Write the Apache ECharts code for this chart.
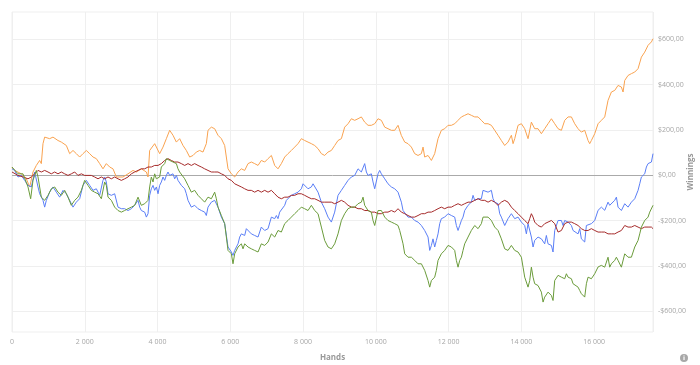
<!DOCTYPE html>
<html>
<head>
<meta charset="utf-8">
<script src="https://cdn.jsdelivr.net/npm/echarts@6/dist/echarts.min.js"></script>
<style>html,body{margin:0;padding:0;background:#fff}#c{width:700px;height:365px}</style>
</head>
<body>
<div id="c"></div>
<script>
// Hands range and tick labels
const xMax = 17620;
const yTicks = [-600, -400, -200, 0, 200, 400, 600];
const seriesNames = ['Player A', 'Player B', 'Player C', 'Player D'];

// [hands, winnings $]
const orange = [[0,34],[73,22],[257,7],[394,-15],[486,-51],[577,15],[669,44],[760,66],[806,52],[852,140],[898,169],[944,177],[1035,162],[1127,169],[1264,154],[1356,147],[1494,132],[1585,96],[1677,110],[1768,96],[1860,81],[1952,96],[2043,110],[2135,96],[2227,81],[2318,74],[2410,52],[2501,29],[2593,52],[2685,37],[2776,29],[2868,-7],
[2914,-15],[3051,-7],[3189,7],[3326,22],[3418,15],[3555,29],[3693,15],[3739,-7],[3784,110],[3830,103],[3922,140],[3968,147],[4059,96],[4151,125],[4243,162],[4334,199],[4426,177],[4518,147],[4609,162],[4701,132],[4792,110],[4884,81],[4976,88],[5067,103],[5159,110],[5250,103],[5342,140],[5388,199],[5480,213],[5571,206],[5663,177],[5755,162],[5846,132],
[5938,29],[6030,7],[6121,-7],[6213,15],[6305,29],[6396,22],[6488,52],[6579,59],[6671,52],[6763,44],[6854,66],[6946,59],[7038,74],[7130,88],[7221,44],[7312,29],[7404,52],[7496,81],[7587,96],[7679,110],[7771,125],[7862,140],[7954,162],[8045,154],[8137,147],[8229,140],[8320,132],[8412,118],[8504,96],[8595,88],[8687,103],[8779,110],[8870,132],
[8962,154],[9054,162],[9145,213],[9237,228],[9329,250],[9420,243],[9512,250],[9603,258],[9695,235],[9787,221],[9878,221],[9970,228],[10062,250],[10153,243],[10245,213],[10336,206],[10428,199],[10520,199],[10611,221],[10657,228],[10703,176],[10795,147],[10886,140],[10978,125],[11069,96],[11161,88],[11253,96],[11299,125],[11344,81],[11436,88],[11528,66],[11619,96],[11711,162],[11802,199],[11894,206],
[11986,221],[12078,221],[12169,228],[12261,243],[12353,258],[12444,265],[12536,272],[12627,265],[12719,258],[12811,258],[12902,243],[12994,228],[13086,228],[13177,221],[13269,199],[13360,177],[13452,154],[13544,132],[13635,147],[13727,177],[13773,140],[13819,162],[13910,221],[14002,228],[14093,206],[14185,162],[14277,235],[14323,243],[14368,206],[14460,206],[14552,184],[14643,206],[14735,228],[14827,250],[14918,228],
[15010,206],[15102,199],[15193,243],[15285,258],[15377,258],[15468,228],[15560,206],[15651,191],[15743,199],[15789,206],[15835,154],[15880,140],[15926,154],[16018,184],[16064,177],[16110,228],[16201,243],[16293,258],[16384,331],[16476,368],[16568,375],[16659,397],[16751,390],[16797,368],[16843,419],[16934,441],[17026,449],[17118,456],[17209,471],[17301,522],[17392,544],[17484,574],[17576,589],[17620,603]];

const blue = [[0,29],[73,22],[165,-7],[257,0],[348,-22],[440,-44],[531,-51],[623,15],[669,7],[715,-51],[760,-81],[806,-74],[852,-110],[898,-140],[944,-110],[1035,-74],[1127,-51],[1219,-74],[1310,-96],[1402,-66],[1494,-81],[1585,-110],[1677,-140],[1768,-118],[1860,-103],[1952,-44],[2043,-22],[2135,-44],[2227,-66],[2318,-59],[2410,-88],[2501,-22],[2547,-7],[2593,-29],[2639,-81],[2731,-88],[2822,-81],
[2914,-140],[3006,-147],[3097,-147],[3189,-155],[3281,-147],[3372,-132],[3464,-110],[3510,-140],[3555,-155],[3647,-162],[3693,-184],[3739,-169],[3784,-88],[3830,-59],[3876,-44],[3922,-66],[3968,-51],[4014,-81],[4059,-44],[4105,-29],[4151,-7],[4197,-22],[4243,0],[4288,15],[4334,0],[4380,-7],[4426,7],[4472,-15],[4518,0],[4563,-22],[4655,-44],[4747,-59],[4792,-81],[4838,-110],[4930,-140],[5021,-132],[5113,-147],[5205,-155],[5296,-162],[5342,-177],[5388,-140],[5434,-132],[5480,-118],[5571,-110],[5663,-140],[5755,-184],[5846,-213],
[5938,-316],[6030,-338],[6075,-353],[6121,-331],[6213,-302],[6259,-272],[6305,-258],[6396,-265],[6442,-235],[6488,-235],[6579,-258],[6671,-265],[6763,-272],[6854,-228],[6946,-243],[7038,-235],[7130,-184],[7221,-191],[7267,-177],[7312,-191],[7358,-162],[7404,-155],[7496,-132],[7542,-110],[7587,-103],[7679,-88],[7771,-81],[7862,-74],[7954,-59],[8000,-37],[8045,-44],[8137,-59],[8229,-51],[8275,-37],[8320,-44],[8412,-74],[8504,-118],[8595,-147],[8687,-184],[8779,-206],[8870,-162],
[8962,-88],[9054,-66],[9145,-44],[9237,-22],[9329,-7],[9420,0],[9512,29],[9558,37],[9603,15],[9695,52],[9741,15],[9787,0],[9878,7],[9924,-29],[9970,-59],[10062,7],[10107,22],[10153,7],[10245,-15],[10336,-37],[10428,-51],[10520,-59],[10611,-74],[10703,-118],[10749,-155],[10795,-162],[10886,-184],[10978,-184],[11069,-199],[11161,-206],[11253,-221],[11344,-243],[11436,-272],[11482,-331],[11528,-309],[11573,-280],[11619,-316],[11665,-287],[11711,-258],[11757,-213],[11802,-191],[11894,-184],
[11986,-169],[12078,-177],[12169,-184],[12215,-221],[12261,-243],[12307,-221],[12353,-199],[12398,-184],[12444,-155],[12536,-132],[12627,-118],[12673,-88],[12719,-110],[12811,-103],[12902,-103],[12948,-66],[12994,-66],[13086,-74],[13177,-66],[13223,-103],[13269,-118],[13360,-125],[13406,-169],[13452,-184],[13544,-221],[13590,-213],[13635,-191],[13727,-169],[13819,-191],[13910,-184],[14002,-206],[14093,-221],[14139,-258],[14185,-213],[14277,-272],[14323,-316],[14368,-287],[14460,-272],[14552,-280],[14643,-302],[14689,-265],[14735,-302],[14827,-309],[14872,-338],[14918,-243],
[15010,-199],[15102,-199],[15147,-221],[15193,-199],[15285,-206],[15377,-221],[15422,-243],[15468,-243],[15560,-258],[15606,-235],[15651,-280],[15743,-294],[15761,-302],[15789,-221],[15835,-213],[15926,-213],[16018,-199],[16110,-154],[16201,-140],[16293,-154],[16384,-118],[16430,-132],[16476,-140],[16568,-110],[16614,-96],[16659,-140],[16751,-155],[16843,-125],[16934,-140],[17026,-118],[17118,-103],[17209,-66],[17255,-37],[17301,-7],[17392,7],[17438,37],[17484,52],[17576,59],[17620,96]];

const red = [[0,15],[165,0],[302,-7],[440,-15],[531,-7],[623,7],[715,22],[806,15],[898,22],[990,15],[1081,7],[1173,15],[1264,7],[1356,15],[1448,7],[1539,0],[1631,7],[1723,15],[1814,0],[1906,7],[1997,0],[2089,0],[2181,0],[2272,-7],[2364,-15],[2456,-7],[2547,-15],[2639,-7],[2731,-15],[2822,-7],
[2914,-15],[3006,-22],[3097,-15],[3189,-7],[3281,7],[3372,15],[3464,22],[3555,29],[3647,29],[3739,37],[3830,37],[3922,44],[4014,44],[4105,52],[4197,66],[4288,74],[4380,66],[4472,59],[4563,59],[4655,52],[4747,44],[4838,52],[4930,44],[5021,52],[5113,44],[5205,37],[5296,29],[5388,22],[5480,15],[5571,15],[5663,15],[5755,7],[5846,0],
[5938,-15],[6030,-22],[6121,-37],[6213,-44],[6305,-51],[6396,-59],[6488,-66],[6579,-66],[6671,-74],[6763,-66],[6854,-74],[6946,-66],[7038,-74],[7130,-66],[7221,-81],[7312,-96],[7404,-103],[7496,-96],[7587,-96],[7679,-88],[7771,-88],[7862,-81],[7954,-81],[8045,-88],[8137,-96],[8229,-103],[8320,-103],[8412,-110],[8504,-118],[8595,-118],[8687,-118],[8779,-118],[8870,-125],
[8962,-118],[9054,-110],[9145,-118],[9237,-132],[9329,-140],[9420,-140],[9512,-147],[9603,-147],[9695,-155],[9787,-155],[9878,-162],[9970,-162],[10062,-169],[10153,-169],[10245,-162],[10336,-162],[10428,-155],[10520,-162],[10611,-147],[10703,-162],[10795,-169],[10886,-177],[10978,-184],[11069,-184],[11161,-177],[11253,-169],[11344,-169],[11436,-162],[11528,-162],[11619,-155],[11711,-147],[11802,-140],[11894,-147],
[11986,-140],[12078,-140],[12169,-132],[12261,-125],[12353,-132],[12444,-125],[12536,-118],[12627,-118],[12719,-110],[12811,-103],[12902,-110],[12994,-110],[13086,-118],[13177,-110],[13269,-118],[13360,-132],[13452,-118],[13544,-110],[13635,-118],[13727,-140],[13819,-155],[13910,-169],[14002,-184],[14093,-199],[14185,-213],[14231,-191],[14277,-169],[14323,-184],[14368,-206],[14460,-221],[14552,-228],[14643,-213],[14735,-206],[14827,-199],[14918,-213],
[15010,-250],[15102,-243],[15193,-213],[15285,-206],[15377,-206],[15468,-213],[15560,-221],[15651,-235],[15743,-243],[15835,-243],[15926,-235],[16018,-243],[16110,-250],[16201,-250],[16293,-250],[16384,-258],[16476,-258],[16568,-258],[16659,-250],[16751,-243],[16843,-221],[16934,-228],[17026,-228],[17118,-221],[17209,-228],[17301,-235],[17392,-228],[17484,-228],[17576,-228],[17620,-235]];

const green = [[0,37],[165,7],[302,7],[440,-51],[513,-103],[577,-22],[669,22],[715,-7],[806,-96],[898,-110],[990,-88],[1081,-59],[1173,-51],[1264,-74],[1356,-88],[1448,-66],[1539,-96],[1631,-132],[1723,-110],[1814,-96],[1906,-66],[1997,-22],[2089,-44],[2181,-66],[2272,-74],[2364,-81],[2456,-103],[2547,-29],[2593,-44],[2639,-96],[2731,-110],[2822,-140],
[2914,-155],[3006,-162],[3097,-155],[3189,-147],[3281,-140],[3372,-132],[3464,-96],[3510,-103],[3555,-132],[3647,-125],[3739,-110],[3784,-51],[3830,-7],[3876,-29],[3922,7],[3968,-15],[4014,-22],[4059,-7],[4105,37],[4197,52],[4243,74],[4288,81],[4334,66],[4380,74],[4426,59],[4472,66],[4518,52],[4563,29],[4609,15],[4655,7],[4747,-15],[4838,-44],[4930,-74],[5021,-66],[5113,-88],[5205,-103],[5296,-118],[5388,-96],[5480,-103],[5571,-74],[5617,-103],[5663,-140],[5755,-177],[5846,-213],
[5938,-331],[6030,-346],[6075,-390],[6121,-346],[6213,-316],[6305,-302],[6350,-324],[6396,-302],[6488,-316],[6579,-324],[6671,-331],[6763,-338],[6808,-346],[6854,-302],[6946,-309],[7038,-294],[7130,-258],[7221,-272],[7312,-243],[7404,-250],[7496,-213],[7587,-199],[7679,-184],[7771,-169],[7862,-155],[7954,-140],[8045,-147],[8137,-155],[8229,-132],[8320,-155],[8412,-169],[8504,-228],[8595,-287],[8687,-316],[8779,-324],[8870,-302],
[8962,-258],[9054,-199],[9145,-169],[9237,-147],[9329,-140],[9420,-140],[9512,-125],[9603,-118],[9649,-96],[9695,-132],[9787,-155],[9878,-162],[9924,-199],[9970,-221],[10062,-155],[10107,-147],[10153,-155],[10245,-184],[10336,-199],[10428,-206],[10520,-213],[10611,-221],[10657,-243],[10703,-272],[10749,-302],[10795,-346],[10886,-361],[10978,-361],[11069,-375],[11161,-390],[11253,-390],[11344,-419],[11436,-464],[11482,-493],[11528,-464],[11573,-471],[11619,-449],[11665,-419],[11711,-375],[11802,-346],[11894,-331],
[11986,-309],[12078,-316],[12169,-331],[12215,-375],[12261,-405],[12307,-375],[12353,-361],[12398,-331],[12444,-302],[12536,-272],[12627,-243],[12719,-221],[12811,-235],[12902,-213],[12948,-184],[12994,-191],[13086,-184],[13177,-199],[13269,-228],[13360,-243],[13452,-280],[13544,-324],[13635,-331],[13727,-309],[13819,-331],[13910,-338],[14002,-361],[14048,-405],[14093,-449],[14185,-493],[14231,-464],[14277,-405],[14323,-449],[14368,-478],[14460,-486],[14552,-515],[14598,-559],[14643,-537],[14735,-515],[14827,-530],[14872,-552],[14918,-464],
[15010,-441],[15102,-449],[15193,-456],[15239,-434],[15285,-449],[15377,-456],[15422,-478],[15468,-486],[15560,-493],[15606,-508],[15651,-522],[15697,-515],[15743,-537],[15789,-478],[15835,-449],[15926,-456],[16018,-434],[16110,-404],[16201,-397],[16293,-405],[16384,-361],[16430,-405],[16476,-390],[16568,-375],[16614,-361],[16659,-375],[16751,-405],[16843,-346],[16934,-361],[17026,-361],[17118,-316],[17209,-287],[17255,-258],[17301,-228],[17392,-199],[17484,-184],[17530,-162],[17576,-155],[17620,-132]];

const colors = ['#f9a24f', '#5a7ef6', '#a52a2a', '#6a9b3a'];
const allData = [orange, blue, red, green];

const chart = echarts.init(document.getElementById('c'), null, {renderer: 'canvas'});
const fmtX = v => String(v).replace(/\B(?=(\d{3})+(?!\d))/g, ' ');
const fmtY = v => (v < 0 ? '-' : '') + '$' + Math.abs(v) + ',00';
const font = "'Open Sans', 'Noto Sans', sans-serif";

chart.setOption({
  animation: false,
  grid: {left: 12, right: 47, top: 12, bottom: 33, containLabel: false, outerBoundsMode: 'none',
         show: true, borderColor: '#efefef', borderWidth: 1},
  xAxis: {
    type: 'value', min: 0, max: xMax, interval: 2000,
    name: 'Hands', nameLocation: 'middle', nameGap: 22, nameMoveOverlap: false,
    nameTextStyle: {color: '#999999', fontSize: 8, fontWeight: 'bold', fontFamily: font},
    axisLine: {show: false}, axisTick: {show: false},
    axisLabel: {color: '#a6a6a6', fontSize: 7, fontFamily: font, margin: 6, formatter: fmtX, showMaxLabel: false},
    splitLine: {show: true, lineStyle: {color: '#efefef', width: 1}}
  },
  yAxis: {
    type: 'value', position: 'right', min: -691, max: 721,
    name: 'Winnings', nameLocation: 'middle', nameGap: 34, nameRotate: 90, nameMoveOverlap: false,
    nameTextStyle: {color: '#999999', fontSize: 8, fontWeight: 'bold', fontFamily: font},
    axisLine: {show: false},
    axisTick: {show: false, customValues: yTicks},
    axisLabel: {color: '#a6a6a6', fontSize: 7, fontFamily: font, margin: 5, formatter: fmtY, customValues: yTicks},
    splitLine: {show: true, lineStyle: {color: '#efefef', width: 1}}
  },
  series: allData.map((d, i) => ({
    name: seriesNames[i], type: 'line', data: d, showSymbol: false, symbol: 'none',
    lineStyle: {width: 1, color: colors[i]}, itemStyle: {color: colors[i]},
    z: 3 + i,
    markLine: i === 0 ? {silent: true, symbol: 'none', label: {show: false},
      lineStyle: {color: '#aaaaaa', width: 1, type: 'solid'}, data: [{yAxis: 0}], z: 2} : undefined
  })),
  graphic: [
    {type: 'circle', shape: {cx: 684, cy: 358, r: 4}, style: {fill: '#a8a8a8'}},
    {type: 'text', x: 684, y: 358, style: {text: 'i', fill: '#fff', font: "bold 6px 'DejaVu Sans'", align: 'center', verticalAlign: 'middle'}}
  ]
});
</script>
</body>
</html>
